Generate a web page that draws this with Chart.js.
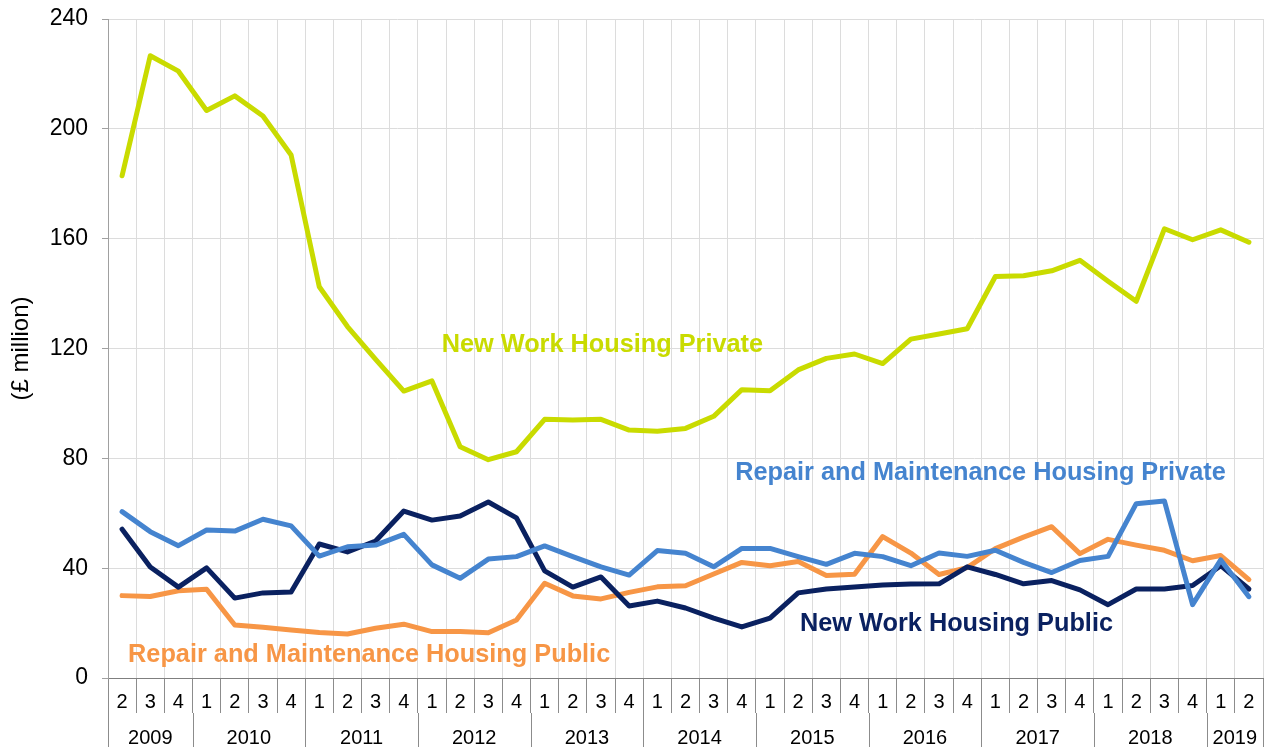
<!DOCTYPE html>
<html><head><meta charset="utf-8">
<script src="https://cdn.jsdelivr.net/npm/chart.js@4/dist/chart.umd.min.js"></script>
<style>html,body{margin:0;padding:0;background:#fff;}#wrap{width:1270px;height:747px;}</style>
</head><body><div id="wrap"><canvas id="c" width="1270" height="747"></canvas></div>
<script>
// Categories: quarters from 2009 Q2 to 2019 Q2
const quarterLabels = ['2','3','4','1','2','3','4','1','2','3','4','1','2','3','4','1','2','3','4','1','2','3','4','1','2','3','4','1','2','3','4','1','2','3','4','1','2','3','4','1','2'];
const yearLabels = ['2009','2010','2011','2012','2013','2014','2015','2016','2017','2018','2019'];
const quartersPerYear = [3,4,4,4,4,4,4,4,4,4,2];
const yTicks = [0,40,80,120,160,200,240];

// Series values (£ million)
const newWorkHousingPrivate = [182.9,226.6,221.0,206.7,212.0,204.7,190.5,142.5,128.0,116.0,104.5,108.2,84.2,79.5,82.4,94.2,94.0,94.2,90.3,89.9,90.9,95.3,105.0,104.6,112.2,116.4,118.0,114.5,123.4,125.3,127.2,146.2,146.5,148.3,152.1,144.5,137.2,163.6,159.6,163.2,158.7];
const newWorkHousingPublic = [54.2,40.4,33.1,40.1,29.1,31.0,31.3,48.8,45.9,49.9,60.8,57.5,59.0,64.1,58.3,39.0,33.1,36.8,26.2,28.0,25.5,21.8,18.6,21.8,31.0,32.4,33.1,33.9,34.2,34.3,40.5,37.7,34.3,35.5,32.1,26.7,32.4,32.4,33.7,40.9,32.4];
const repairHousingPrivate = [60.6,53.3,48.2,53.9,53.5,57.8,55.4,44.4,47.8,48.4,52.3,41.2,36.3,43.3,44.2,48.1,44.2,40.5,37.5,46.4,45.4,40.5,47.2,47.2,44.2,41.4,45.4,44.2,40.9,45.5,44.3,46.5,42.1,38.4,42.8,44.3,63.5,64.5,26.7,43.0,29.6];
const repairHousingPublic = [30.0,29.7,31.8,32.3,19.3,18.5,17.5,16.6,16.0,18.1,19.6,16.9,16.9,16.5,21.1,34.5,29.9,28.8,31.2,33.2,33.6,37.9,42.1,40.9,42.4,37.3,37.8,51.5,45.5,37.7,40.2,47.1,51.3,55.1,45.3,50.5,48.4,46.5,42.7,44.6,35.8];

const seriesNames = ['Repair and Maintenance Housing Private','New Work Housing Public','Repair and Maintenance Housing Public','New Work Housing Private'];

const C_YELLOW = '#c9db00', C_NAVY = '#0a2160', C_BLUE = '#4584cf', C_ORANGE = '#f79646';
const FONT = '"Liberation Sans", Arial, sans-serif';

// In-chart series labels, anchored in data space (category index, value at text baseline)
const seriesLabelAnchors = [
  {text: seriesNames[3], color: C_YELLOW, at: [17.05, 118.8]},
  {text: seriesNames[0], color: C_BLUE, at: [30.47, 72.1]},
  {text: seriesNames[1], color: C_NAVY, at: [29.62, 17.1]},
  {text: seriesNames[2], color: C_ORANGE, at: [8.77, 5.9]}
];

const axisPlugin = {
  id: 'axisPlugin',
  afterDraw(chart) {
    const ctx = chart.ctx, xs = chart.scales.x, ys = chart.scales.y;
    const step = xs.getPixelForValue(1) - xs.getPixelForValue(0);
    ctx.save();
    // quarter labels
    ctx.fillStyle = '#000';
    ctx.font = '20px ' + FONT;
    ctx.textAlign = 'center';
    ctx.textBaseline = 'alphabetic';
    quarterLabels.forEach((q, i) => ctx.fillText(q, xs.getPixelForValue(i), xs.top + 30));
    // year groups
    let start = 0;
    ctx.strokeStyle = '#8c8c8c';
    ctx.lineWidth = 1;
    const drawSep = (px) => {
      ctx.beginPath();
      ctx.moveTo(Math.round(px) + 0.5, xs.top + 35);
      ctx.lineTo(Math.round(px) + 0.5, xs.bottom);
      ctx.stroke();
    };
    yearLabels.forEach((y, k) => {
      const n = quartersPerYear[k];
      const left = xs.getPixelForValue(start) - step / 2;
      const right = xs.getPixelForValue(start + n - 1) + step / 2;
      drawSep(left);
      if (k === yearLabels.length - 1) drawSep(right);
      ctx.fillText(y, (left + right) / 2, xs.top + 66);
      start += n;
    });
    // series labels
    ctx.font = 'bold 25.3px ' + FONT;
    seriesLabelAnchors.forEach(a => {
      ctx.fillStyle = a.color;
      ctx.fillText(a.text, xs.getPixelForValue(a.at[0]), ys.getPixelForValue(a.at[1]));
    });
    ctx.restore();
  }
};

const mk = (label, data, color) => ({
  label, data, borderColor: color, backgroundColor: color,
  borderWidth: 5, pointRadius: 0, pointHoverRadius: 0, fill: false, tension: 0,
  borderCapStyle: 'round', borderJoinStyle: 'round'
});

new Chart(document.getElementById('c'), {
  type: 'line',
  data: {
    labels: quarterLabels,
    datasets: [
      mk(seriesNames[0], repairHousingPrivate, C_BLUE),
      mk(seriesNames[1], newWorkHousingPublic, C_NAVY),
      mk(seriesNames[2], repairHousingPublic, C_ORANGE),
      mk(seriesNames[3], newWorkHousingPrivate, C_YELLOW)
    ]
  },
  options: {
    responsive: false,
    animation: false,
    devicePixelRatio: 1,
    layout: {padding: {left: 0, right: 7, top: 19, bottom: 0}},
    plugins: {legend: {display: false}, tooltip: {enabled: false}},
    scales: {
      x: {
        type: 'category',
        offset: true,
        grid: {offset: true, color: '#dcdcdc', tickColor: '#8c8c8c', tickLength: 35, lineWidth: 1},
        border: {color: '#7f7f7f', width: 1},
        ticks: {display: false},
        afterFit: (s) => { s.height = 69; s.paddingLeft = 0; s.paddingRight = 0; }
      },
      y: {
        min: 0, max: 240,
        afterBuildTicks: (s) => { s.ticks = yTicks.map(v => ({value: v})); },
        grid: {color: '#dcdcdc', tickColor: '#a0a0a0', tickLength: 6},
        border: {color: '#a0a0a0', width: 1},
        ticks: {color: '#000', font: {family: FONT, size: 23}, padding: 14},
        title: {display: true, text: '(£ million)', color: '#000', font: {family: FONT, size: 24}, padding: {top: 7, bottom: 0}},
        afterFit: (s) => { s.width = 108; s.paddingTop = 0; s.paddingBottom = 0; }
      }
    }
  },
  plugins: [axisPlugin]
});
</script>
</body></html>
